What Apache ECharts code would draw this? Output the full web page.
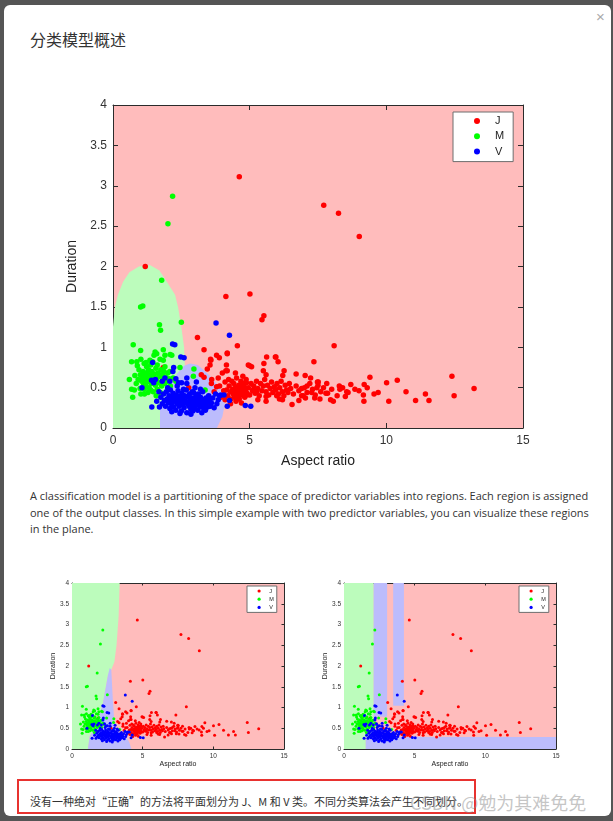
<!DOCTYPE html>
<html>
<head>
<meta charset="utf-8">
<script src="https://cdn.jsdelivr.net/npm/echarts@6/dist/echarts.min.js"></script>
<style>
  html, body { margin:0; padding:0; width:613px; height:821px; overflow:hidden; background:#555; }
  #dialog { position:absolute; left:4px; top:5px; width:607px; height:811px; background:#fff; border-radius:6px; }
  #title { position:absolute; left:30px; top:27px; font:16px "Noto Sans CJK SC", sans-serif; color:#333; white-space:nowrap; }
  #close { position:absolute; left:596px; top:8px; font:15px "Liberation Sans", sans-serif; color:#aaa; }
  #para { position:absolute; left:30px; top:488px; font:11px "Open Sans", sans-serif; line-height:16.5px; color:#333; white-space:nowrap; }
  #redbox { position:absolute; left:17px; top:779px; width:455px; height:31px; border:2px solid #e8322f; }
  #cn { position:absolute; left:30px; top:793px; font:11px "Noto Sans CJK SC", sans-serif; color:#333; white-space:nowrap; }
  #wm { position:absolute; left:410px; top:789px; font:18px "Noto Sans CJK SC", sans-serif; color:rgba(140,140,140,0.5); white-space:nowrap; }
  #chart { position:absolute; left:0; top:0; width:613px; height:821px; }
</style>
</head>
<body>
<div id="dialog"></div>
<div id="title">分类模型概述</div>
<div id="close">×</div>
<div id="para"><span id="line1">A classification model is a partitioning of the space of predictor variables into regions. Each region is assigned</span><br>one of the output classes. In this simple example with two predictor variables, you can visualize these regions<br>in the plane.</div>
<div id="redbox"></div>
<div id="cn"><span id="cnline">没有一种绝对“正确”的方法将平面划分为 J、M 和 V 类。不同分类算法会产生不同划分。</span></div>
<div id="wm">CSDN @勉为其难免免</div>
<div id="chart"></div>
<script>
// ---------------- DATA ----------------
const classNames = ['J', 'M', 'V'];
const xTicks = [0, 5, 10, 15];
const yTicks = [0, 0.5, 1, 1.5, 2, 2.5, 3, 3.5, 4];

const pointsJ = [
 [4.62,3.11],[7.71,2.76],[8.25,2.66],[9.01,2.37],[1.18,2.0],[4.13,1.63],[5.01,1.66],[5.52,1.39],[5.45,1.34],
 [3.09,1.12],[3.33,0.97],[3.79,0.90],[3.89,0.87],[4.18,0.93],[4.55,1.02],[3.58,0.84],[5.62,0.88],[5.52,0.80],
 [5.94,0.88],[6.04,0.82],[7.35,0.82],[8.09,1.02],[5.0,0.77],[5.07,0.76],[4.18,0.71],[4.48,0.68],[4.75,0.64],
 [4.87,0.60],[5.5,0.71],[5.6,0.66],[6.26,0.71],[6.21,0.65],[6.70,0.67],[7.03,0.65],[7.23,0.62],[7.51,0.57],
 [7.82,0.55],[8.28,0.52],[8.70,0.54],[9.19,0.54],[9.40,0.63],[10.01,0.56],[10.4,0.59],[10.72,0.45],[11.07,0.34],
 [11.43,0.42],[11.56,0.34],[12.40,0.64],[12.48,0.40],[13.21,0.49],[10.09,0.33],[9.55,0.42],[9.16,0.41],[9.18,0.33],
 [8.5,0.39],[8.55,0.45],[8.06,0.33],[7.96,0.35],[7.79,0.43],[7.46,0.50],[7.48,0.57],[7.1,0.52],[7.27,0.44],
 [7.57,0.36],[7.38,0.37],[7.04,0.37],[6.9,0.49],[6.96,0.40],[8.3,0.48],[6.55,0.29],[6.09,0.36],[5.99,0.40],
 [5.6,0.39],[5.26,0.45],[5.14,0.47],[4.89,0.41],[3.23,0.66],[3.33,0.63],[3.79,0.51],[3.61,0.60],[4.23,0.60],
 [4.16,0.47],[4.41,0.45],[4.65,0.51],[4.71,0.43],[1.84,0.75],[2.77,0.50],[3.53,0.30],[4.18,0.92],[5.96,0.88],
 [4.95,0.78],[4.13,0.71],[3.57,0.85],
 [4.20,0.40],[4.25,0.52],[4.30,0.45],[4.32,0.36],[4.35,0.58],[4.38,0.48],[4.40,0.42],[4.42,0.55],[4.45,0.38],
 [4.48,0.50],[4.50,0.44],[4.52,0.62],[4.55,0.47],[4.58,0.40],[4.60,0.53],[4.62,0.36],[4.65,0.45],[4.68,0.58],
 [4.70,0.49],[4.72,0.41],[4.75,0.55],[4.78,0.44],[4.80,0.51],[4.82,0.38],[4.85,0.47],[4.88,0.56],[4.90,0.43],
 [4.95,0.50],[5.00,0.41],[5.05,0.55],[5.10,0.46],[5.15,0.52],[5.20,0.43],[5.25,0.58],[5.30,0.49],[5.35,0.40],
 [5.40,0.55],[5.45,0.46],[5.50,0.52],[5.55,0.60],[5.60,0.45],[5.65,0.53],[5.70,0.41],[5.75,0.49],[5.80,0.57],
 [5.85,0.44],[5.90,0.51],[5.95,0.47],[6.00,0.55],[6.05,0.42],[6.10,0.50],[6.15,0.58],[6.20,0.45],[6.25,0.40],
 [6.30,0.53],[6.35,0.47],[6.40,0.44],[6.45,0.55],[6.50,0.49],[6.60,0.42],[6.70,0.52],[6.80,0.46],[6.90,0.40],
 [7.00,0.50],[7.10,0.44],[7.20,0.55],[7.30,0.48],[7.40,0.41],[7.50,0.53],[7.60,0.45],[7.70,0.50],[7.85,0.43],
 [8.00,0.48],[8.20,0.40],[8.40,0.50],[8.60,0.44],[8.85,0.48],[9.00,0.46],[9.30,0.50],[9.70,0.44],
 [3.60,0.55],[3.70,0.45],[3.85,0.62],[3.90,0.52],[4.00,0.68],[4.05,0.46],[4.10,0.57],[4.15,0.78],[3.45,0.73],
 [3.55,0.78],[3.95,0.38],[4.10,0.35],[4.30,0.30],[4.50,0.33],[4.70,0.31],[5.30,0.35],[5.60,0.33],[6.20,0.35],[6.80,0.34]
];

const pointsM = [
 [2.18,2.87],[2.01,2.53],[1.78,1.83],[1.01,1.50],[1.09,1.51],[1.70,1.28],[1.74,1.21],[2.50,1.31],[0.74,1.03],
 [1.01,0.96],[1.54,0.94],[1.60,0.92],[1.50,0.90],[1.84,0.97],[2.09,0.91],[2.15,0.90],[0.68,0.82],[0.87,0.82],
 [0.89,0.77],[1.14,0.80],[1.21,0.81],[1.35,0.84],[1.38,0.78],[1.72,0.85],[1.84,0.84],[1.90,0.76],[2.08,0.70],
 [2.96,0.73],[2.94,0.64],[3.37,0.47],[0.60,0.60],[0.68,0.48],[0.72,0.38],[0.99,0.49],[1.02,0.42],[1.14,0.48],[1.23,0.76],
 [0.95,0.72],[1.00,0.66],[1.05,0.58],[1.08,0.62],[1.10,0.70],[1.12,0.55],[1.15,0.64],[1.18,0.60],[1.20,0.52],
 [1.22,0.68],[1.25,0.57],[1.27,0.63],[1.30,0.72],[1.32,0.50],[1.33,0.60],[1.36,0.66],[1.40,0.55],[1.42,0.70],
 [1.45,0.62],[1.47,0.45],[1.50,0.58],[1.52,0.67],[1.55,0.53],[1.57,0.74],[1.60,0.61],[1.62,0.48],[1.65,0.68],
 [1.68,0.56],[1.70,0.64],[1.73,0.44],[1.75,0.72],[1.78,0.52],[1.80,0.66],[1.83,0.60],[1.86,0.70],[1.90,0.55],
 [1.93,0.63],[1.97,0.58],[2.00,0.68],[2.05,0.61],[2.10,0.52],[1.15,0.42],[1.28,0.44],[0.92,0.60],[0.85,0.55],
 [0.80,0.65],[0.78,0.47],[1.38,0.47],[1.58,0.40],[2.20,0.62],[2.30,0.58],[2.45,0.75],[1.02,0.85],[1.45,0.82],
 [1.62,0.78],[1.90,0.90]
];

const pointsV = [
 [3.77,1.30],[4.26,1.15],[2.18,1.04],[2.26,1.03],[2.48,0.88],[2.60,0.87],[1.45,0.81],[2.19,0.70],[1.41,0.59],
 [1.49,0.56],[1.80,0.58],[2.08,0.58],[2.51,0.56],[1.06,0.50],[1.42,0.26],[4.84,0.28],[5.04,0.27],[3.94,0.41],
 [4.06,0.41],[4.26,0.34],[4.18,0.27],[2.22,0.75],[1.90,0.62],[1.55,0.60],[2.90,0.45],
 [1.75,0.38],[1.80,0.30],[1.85,0.42],[1.88,0.34],[1.92,0.27],[1.95,0.45],[1.98,0.36],[2.02,0.31],[2.05,0.40],
 [2.08,0.24],[2.10,0.47],[2.12,0.34],[2.15,0.29],[2.18,0.38],[2.20,0.43],[2.22,0.26],[2.25,0.33],[2.28,0.37],
 [2.30,0.22],[2.32,0.41],[2.35,0.30],[2.38,0.46],[2.40,0.35],[2.42,0.27],[2.45,0.39],[2.48,0.32],[2.50,0.21],
 [2.52,0.43],[2.55,0.29],[2.57,0.36],[2.60,0.25],[2.62,0.40],[2.65,0.33],[2.68,0.47],[2.70,0.19],[2.72,0.30],
 [2.75,0.38],[2.78,0.27],[2.80,0.42],[2.82,0.34],[2.85,0.23],[2.88,0.31],[2.90,0.37],[2.93,0.28],[2.95,0.44],
 [2.98,0.33],[3.00,0.25],[3.03,0.39],[3.05,0.30],[3.08,0.35],[3.10,0.22],[3.12,0.42],[3.15,0.28],[3.18,0.33],
 [3.20,0.38],[3.23,0.26],[3.25,0.31],[3.28,0.45],[3.30,0.35],[3.33,0.24],[3.36,0.29],[3.40,0.37],[3.43,0.32],
 [3.46,0.26],[3.50,0.40],[3.53,0.34],[3.56,0.27],[3.60,0.31],[3.65,0.37],[3.70,0.25],[3.75,0.42],[3.80,0.30],
 [3.85,0.35],[3.90,0.40],[2.00,0.50],[2.35,0.52],[2.70,0.55],[3.00,0.50],[3.20,0.48],[2.45,0.18],[2.85,0.17],
 [3.25,0.19],[1.70,0.26],[2.58,0.48],[2.92,0.21],[3.38,0.22],[2.15,0.20],[1.60,0.33],[1.68,0.45],[2.30,0.61],
 [2.70,0.62],[3.05,0.57],[2.40,0.56]
];

// decision regions (data units), background class is J
const mainRegionM = [[0,0],[0,1.25],[0.07,1.5],[0.18,1.65],[0.37,1.81],[0.6,1.93],[0.95,2.0],[1.35,2.02],[1.7,1.95],
 [1.97,1.81],[2.27,1.65],[2.38,1.5],[2.5,1.25],[2.6,1.0],[2.63,0.75],[2.6,0.4],[2.4,0]];
const mainRegionV = [[1.72,0],[1.72,0.26],[2.0,0.45],[2.33,0.67],[2.6,0.77],[2.82,0.8],[3.1,0.78],[3.44,0.68],[3.7,0.59],
 [3.9,0.5],[4.05,0.4],[4.1,0.31],[4.0,0.14],[3.8,0]];
const s1RegionM = [[0,0],[0,4],[3.37,4],[3.3,3.2],[3.15,2.5],[3.0,2.1],[2.78,1.91],[2.55,1.79],[2.19,1.11],[1.72,0.55],[1.25,0.31],[1.13,0]];
const s1RegionV = [[2.55,1.79],[2.67,1.95],[2.78,1.91],[2.9,1.11],[3.02,0.55],[3.37,0.39],[3.84,0.31],[4.08,0.14],[4.2,0],[1.13,0],[1.25,0.31],[1.72,0.55],[2.19,1.11]];
const s2RegionM = [[0,0],[0,4],[2.1,4],[2.1,0.29],[1.54,0.29],[1.54,0]];
const s2RegionV1 = [[2.1,0.78],[2.1,4],[3.05,4],[3.05,0.78]];
const s2RegionV2 = [[3.48,1.04],[3.48,4],[4.24,4],[4.24,1.04]];
const s2RegionV3 = [[1.54,0],[1.54,0.29],[15,0.29],[15,0]];

// ---------------- fit page text widths ----------------
function fitWidth(boxId, spanId, target) {
  const box = document.getElementById(boxId), span = document.getElementById(spanId);
  const fs = parseFloat(getComputedStyle(box).fontSize);
  const w = span.getBoundingClientRect().width;
  if (w > 0) box.style.fontSize = (fs * target / w).toFixed(2) + 'px';
}
fitWidth('para', 'line1', 558);
fitWidth('cn', 'cnline', 438);

// ---------------- STYLE ----------------
const colJ = '#ff0000', colM = '#00ff00', colV = '#0000ff';
const fillJ = '#ffbcbc', fillM = '#bcfcbc', fillV = '#bcbcfc';
const axisCol = '#2b2b2b';
const FONT = '"Liberation Sans", Arial, sans-serif';

const grids = [
  {left:113, top:105, width:410, height:323, big:true},
  {left:72, top:583, width:212, height:166, big:false},
  {left:344, top:583, width:212, height:166, big:false}
];

function xAxes(gi, big) {
  const fs = big ? 12 : 6.5;
  const common = {gridIndex:gi, type:'value', min:xTicks[0], max:xTicks[xTicks.length-1], interval:xTicks[1]-xTicks[0],
    splitLine:{show:false}, axisLine:{show:true, onZero:false, lineStyle:{color:axisCol, width:1}},
    axisTick:{show:true, inside:true, length: big?5:2.5, lineStyle:{color:axisCol}}};
  return [
    Object.assign({}, common, {position:'bottom', name:'Aspect ratio', nameLocation:'middle', nameGap: big?26:11,
      nameTextStyle:{fontSize: big?14:7, color:'#222', fontFamily:FONT},
      axisLabel:{fontSize:fs, color:'#333', margin: big?7:3.5, fontFamily:FONT}}),
    Object.assign({}, common, {position:'top', axisLabel:{show:false}})
  ];
}
function yAxes(gi, big) {
  const fs = big ? 12 : 6.5;
  const common = {gridIndex:gi, type:'value', min:yTicks[0], max:yTicks[yTicks.length-1], interval:yTicks[1]-yTicks[0],
    splitLine:{show:false}, axisLine:{show:true, onZero:false, lineStyle:{color:axisCol, width:1}},
    axisTick:{show:true, inside:true, length: big?5:2.5, lineStyle:{color:axisCol}}};
  return [
    Object.assign({}, common, {position:'left', name:'Duration', nameLocation:'middle', nameGap: big?27:13,
      nameTextStyle:{fontSize: big?14:7, color:'#222', fontFamily:FONT},
      axisLabel:{fontSize:fs, color:'#333', margin: big?6:3, fontFamily:FONT}}),
    Object.assign({}, common, {position:'right', axisLabel:{show:false}})
  ];
}

function regionSeries(gi, region, color) {
  return {
    type:'custom', xAxisIndex:gi*2, yAxisIndex:gi*2, data:region, clip:true, silent:true, z:1,
    renderItem: function(params, api) {
      if (params.dataIndex !== 0) return null;
      const pts = region.map(p => api.coord(p));
      return {type:'polygon', shape:{points:pts}, style:{fill:color, stroke:null}};
    }
  };
}
function scatterSeries(gi, name, data, color, size) {
  return {type:'scatter', name:name, xAxisIndex:gi*2, yAxisIndex:gi*2, data:data, symbolSize:size,
    itemStyle:{color:color, opacity:1}, z:3, silent:true, animation:false};
}

const xAxisList = [], yAxisList = [], series = [];
grids.forEach((g, i) => {
  xAxisList.push(...xAxes(i, g.big));
  yAxisList.push(...yAxes(i, g.big));
});
series.push(regionSeries(0, mainRegionM, fillM));
series.push(regionSeries(0, mainRegionV, fillV));
series.push(regionSeries(1, s1RegionM, fillM));
series.push(regionSeries(1, s1RegionV, fillV));
series.push(regionSeries(2, s2RegionM, fillM));
series.push(regionSeries(2, s2RegionV1, fillV));
series.push(regionSeries(2, s2RegionV2, fillV));
series.push(regionSeries(2, s2RegionV3, fillV));
grids.forEach((g, i) => {
  const sz = g.big ? 5.5 : 3;
  series.push(scatterSeries(i, classNames[0], pointsJ, colJ, sz));
  series.push(scatterSeries(i, classNames[1], pointsM, colM, sz));
  series.push(scatterSeries(i, classNames[2], pointsV, colV, sz));
});

function legendAt(left, top, big) {
  return {
    left:left, top:top, orient:'vertical', data:classNames, icon:'circle',
    itemWidth: big?6:3.2, itemHeight: big?6:3.2, itemGap: big?3.3:2.2,
    padding: big?[3,9,4,21]:[2,3,2,10.5],
    backgroundColor:'#fff', borderColor:'#6e6e6e', borderWidth:1, borderRadius:0,
    textStyle:{fontSize: big?11:5.5, lineHeight: big?12:6, color:'#222', fontFamily:FONT, padding:[0,0,0, big?10:3.5]},
    selectedMode:false
  };
}

const chart = echarts.init(document.getElementById('chart'), null, {renderer:'canvas'});
chart.setOption({
  animation:false,
  backgroundColor:'transparent',
  grid: grids.map(g => ({left:g.left, top:g.top, width:g.width, height:g.height, show:true, backgroundColor:fillJ, borderWidth:0})),
  xAxis: xAxisList,
  yAxis: yAxisList,
  legend: [legendAt(453, 112, true), legendAt(247, 586, false), legendAt(519, 586, false)],
  series: series
});
</script>
</body>
</html>
